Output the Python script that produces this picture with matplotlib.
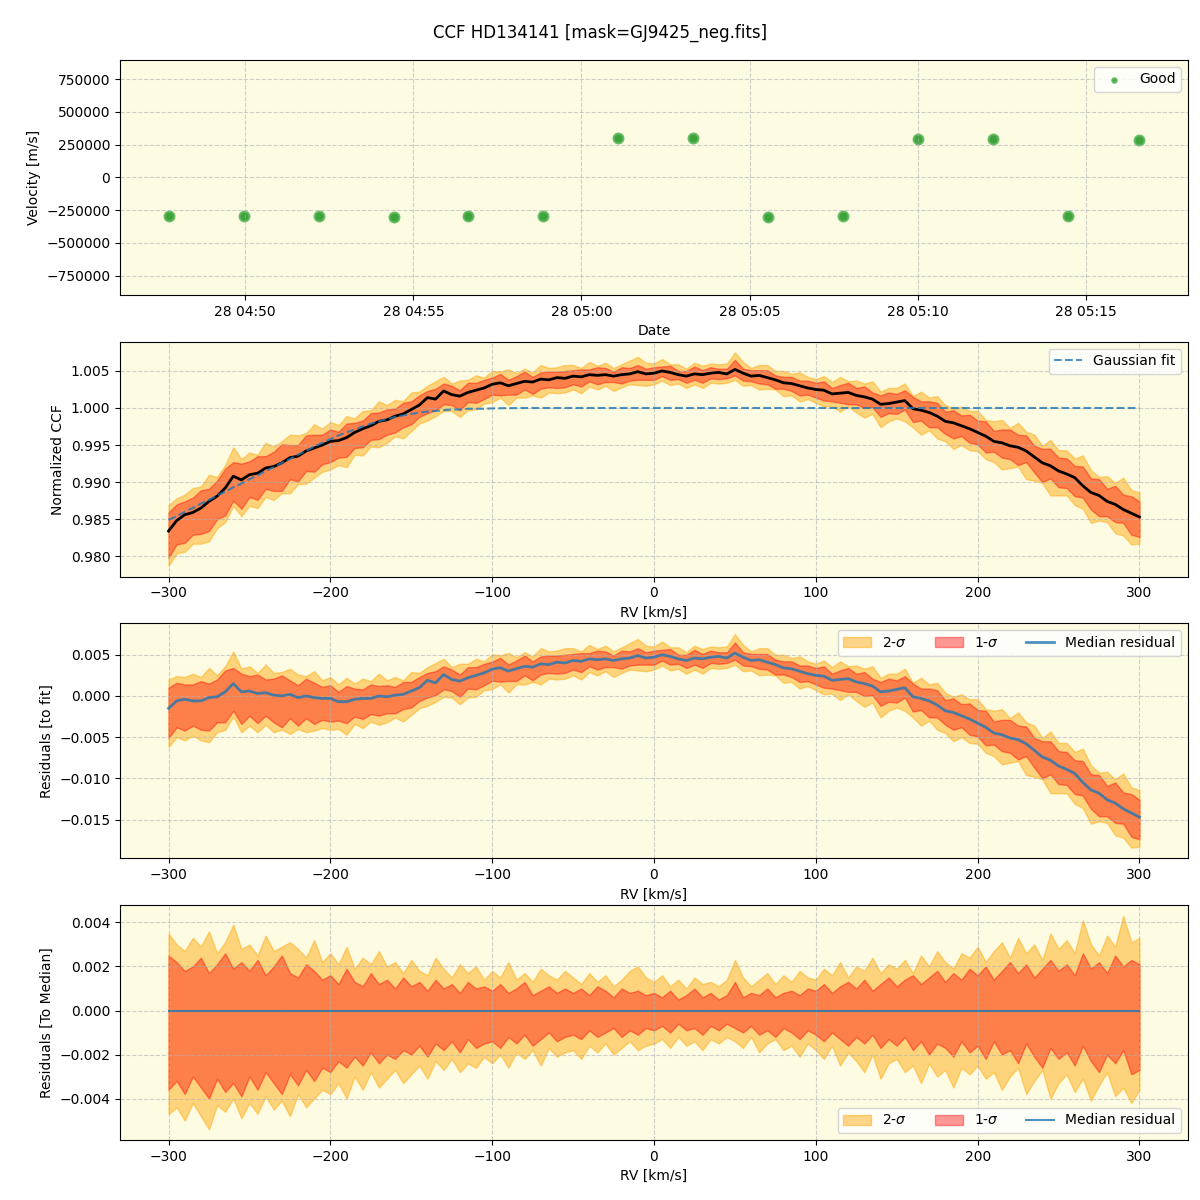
import numpy as np
import pandas as pd
import matplotlib
matplotlib.use("Agg")
import matplotlib.pyplot as plt
import matplotlib.dates as mdates

# --- RV time series (top panel) ---
obs_times = ["2024-03-28 04:47:43", "2024-03-28 04:49:57", "2024-03-28 04:52:11",
             "2024-03-28 04:54:25", "2024-03-28 04:56:38", "2024-03-28 04:58:52",
             "2024-03-28 05:01:06", "2024-03-28 05:03:19", "2024-03-28 05:05:33",
             "2024-03-28 05:07:47", "2024-03-28 05:10:00", "2024-03-28 05:12:14",
             "2024-03-28 05:14:28", "2024-03-28 05:16:36"]
velocities = [-297000, -297000, -297000, -305000, -297000, -297000, 297000,
              297000, -305000, -297000, 290000, 290000, -297000, 282000]

# --- CCF grid (km/s), 5 km/s steps from -300 to 300 ---
rv = np.arange(-300, 301, 5)

# median CCF, deviation from 1 in units of 1e-4
ccf_med = [-166, -152, -144, -141, -135, -126, -119, -108, -92, -97,
           -90, -88, -81, -79, -74, -67, -65, -58, -54, -50,
           -45, -44, -40, -33, -28, -24, -18, -16, -11, -8,
           -2, 4, 14, 12, 23, 18, 16, 21, 24, 27,
           32, 34, 30, 33, 36, 35, 39, 38, 41, 40,
           43, 42, 45, 44, 45, 43, 45, 46, 49, 46,
           47, 50, 48, 45, 43, 46, 45, 47, 48, 46,
           52, 47, 43, 44, 41, 38, 34, 33, 30, 27,
           25, 24, 19, 20, 21, 17, 15, 12, 5, 6,
           8, 10, -1, -3, -6, -11, -18, -20, -24, -28,
           -33, -38, -45, -47, -51, -53, -58, -66, -74, -78,
           -85, -89, -94, -105, -114, -118, -126, -130, -137, -142,
           -147]

# gaussian fit, deficit below 1 in units of 1e-4
fit_deficit = [151, 146, 140, 135, 129, 124, 118, 113, 107, 102,
               96, 91, 85, 80, 74, 69, 63, 58, 52, 47,
               42, 37, 33, 29, 25, 21, 18, 15, 12, 10,
               8, 6, 5, 4, 3, 2, 2, 1, 1, 1,
               0.5, 0.3, 0.2, 0.1] + [0] * 77

# percentile offsets around the median (units of 1e-4)
up1 = [25, 22, 18, 20, 24, 17, 21, 26, 19, 22,
       18, 23, 16, 20, 25, 17, 15, 21, 18, 14,
       16, 12, 19, 13, 11, 17, 12, 14, 10, 15,
       11, 13, 9, 14, 10, 12, 8, 13, 10, 11,
       9, 12, 8, 10, 13, 7, 9, 11, 8, 10,
       8, 10, 7, 11, 9, 6, 10, 8, 9, 7,
       8, 6, 9, 5, 7, 10, 6, 8, 5, 7,
       13, 6, 8, 7, 10, 6, 8, 9, 7, 10,
       9, 12, 8, 11, 13, 10, 14, 9, 12, 15,
       11, 14, 16, 12, 15, 18, 13, 17, 14, 19,
       16, 20, 14, 18, 22, 17, 21, 15, 19, 23,
       18, 21, 16, 26, 19, 22, 17, 25, 20, 23,
       21]
lo1 = [36, 32, 38, 30, 35, 40, 31, 37, 33, 39,
       30, 36, 28, 33, 38, 29, 34, 27, 32, 26,
       28, 23, 26, 21, 25, 19, 24, 20, 22, 18,
       20, 16, 21, 15, 18, 14, 19, 13, 17, 15,
       14, 17, 12, 15, 11, 16, 13, 10, 14, 12,
       11, 13, 9, 12, 10, 8, 12, 9, 11, 8,
       9, 7, 10, 6, 9, 8, 11, 7, 9, 6,
       8, 10, 7, 11, 9, 12, 8, 10, 13, 9,
       11, 14, 10, 13, 16, 12, 15, 11, 17, 13,
       16, 12, 18, 14, 20, 15, 17, 21, 14, 19,
       16, 22, 14, 20, 18, 24, 15, 21, 26, 17,
       22, 19, 25, 16, 23, 28, 20, 24, 18, 29,
       27]
up2 = [35, 30, 27, 33, 29, 36, 26, 31, 39, 28,
       30, 25, 34, 27, 29, 31, 28, 24, 32, 22,
       26, 21, 29, 19, 24, 21, 27, 20, 22, 17,
       23, 18, 16, 24, 19, 15, 21, 17, 20, 14,
       18, 15, 22, 14, 17, 13, 19, 16, 14, 18,
       15, 12, 17, 13, 16, 11, 14, 18, 20, 15,
       13, 16, 11, 14, 10, 15, 12, 13, 11, 14,
       23, 15, 11, 14, 17, 12, 16, 13, 18, 15,
       14, 19, 16, 22, 15, 20, 18, 24, 17, 21,
       19, 23, 17, 25, 20, 27, 22, 19, 26, 24,
       29, 22, 27, 31, 24, 33, 26, 30, 23, 35,
       28, 32, 26, 41, 30, 25, 34, 29, 43, 31,
       33]
lo2 = [47, 44, 50, 42, 48, 54, 43, 46, 40, 49,
       42, 47, 39, 45, 41, 48, 38, 44, 40, 36,
       38, 33, 40, 30, 36, 28, 35, 31, 27, 33,
       29, 25, 31, 23, 27, 22, 28, 24, 26, 21,
       24, 20, 26, 19, 22, 18, 25, 17, 21, 19,
       18, 22, 16, 19, 15, 20, 17, 14, 18, 16,
       15, 13, 17, 12, 16, 14, 18, 13, 15, 12,
       14, 17, 12, 19, 15, 13, 18, 16, 21, 15,
       18, 22, 16, 25, 19, 23, 28, 20, 31, 24,
       22, 28, 25, 33, 24, 30, 27, 35, 26, 29,
       25, 31, 28, 36, 30, 26, 38, 32, 27, 40,
       33, 29, 37, 31, 41, 34, 28, 39, 35, 42,
       36]

scale = 1e-4
med = 1 + np.array(ccf_med) * scale
fit = 1 - np.array(fit_deficit) * scale
u1 = np.array(up1) * scale
l1 = -np.array(lo1) * scale
u2 = np.array(up2) * scale
l2 = -np.array(lo2) * scale
resid = med - fit
zero = np.zeros_like(med)

bg = "#fdfbe2"
sig2_color = "orange"
sig1_color = "red"

fig, axes = plt.subplots(4, 1, figsize=(12, 12))
plt.subplots_adjust(left=0.1, right=0.99, top=0.95, bottom=0.05, hspace=0.2)
fig.suptitle("CCF HD134141 [mask=GJ9425_neg.fits]", fontsize=12)

for ax in axes:
    ax.set_facecolor(bg)
    ax.grid(True, linestyle="--", alpha=0.6)

# panel 1: velocities vs time
ax = axes[0]
t = pd.to_datetime(obs_times)
ax.scatter(t, velocities, s=50, facecolor="#2a9a2a", edgecolors="#5cb85c",
           linewidths=1.5, alpha=0.9, label="Good")
ax.set_ylim(-895000, 895000)
ax.set_ylabel("Velocity [m/s]")
ax.set_xlabel("Date")
ax.xaxis.set_major_locator(mdates.MinuteLocator(byminute=range(0, 60, 5)))
ax.xaxis.set_major_formatter(mdates.DateFormatter("%d %H:%M"))
ax.legend(loc="upper right", markerscale=0.45)


def draw_bands(ax, center, with_label):
    ax.fill_between(rv, center + l2, center + u2, color=sig2_color, alpha=0.45,
                    label="2-$\\sigma$" if with_label else None)
    ax.fill_between(rv, center + l1, center + u1, color=sig1_color, alpha=0.4,
                    label="1-$\\sigma$" if with_label else None)


# panel 2: normalized CCF
ax = axes[1]
draw_bands(ax, med, False)
ax.plot(rv, med, color="black", lw=2)
ax.plot(rv, fit, "--", color="tab:blue", alpha=0.8, lw=1.5, label="Gaussian fit")
ax.set_ylabel("Normalized CCF")
ax.set_xlabel("RV [km/s]")
ax.legend(loc="upper right")

# panel 3: residuals to fit
ax = axes[2]
draw_bands(ax, resid, True)
ax.plot(rv, resid, color="tab:blue", alpha=0.8, lw=2, label="Median residual")
ax.set_ylabel("Residuals [to fit]")
ax.set_xlabel("RV [km/s]")
ax.legend(loc="upper right", ncol=3)

# panel 4: residuals to median
ax = axes[3]
draw_bands(ax, zero, True)
ax.plot(rv, zero, color="tab:blue", alpha=0.8, lw=1.5, label="Median residual")
ax.set_ylabel("Residuals [To Median]")
ax.set_xlabel("RV [km/s]")
ax.legend(loc="lower right", ncol=3)

plt.savefig("out.png", dpi=100)
